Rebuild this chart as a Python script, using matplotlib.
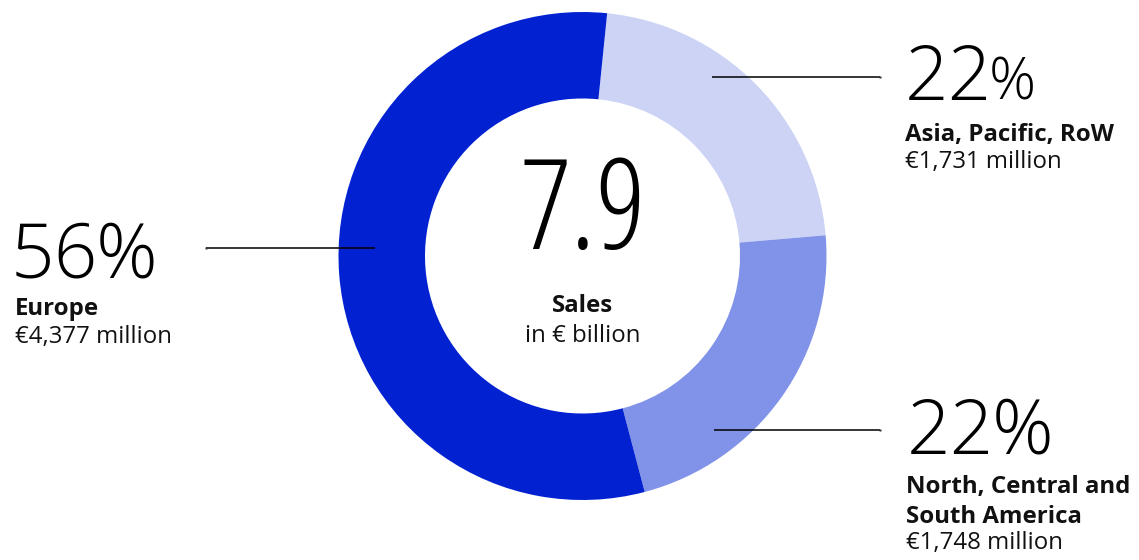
import matplotlib
matplotlib.use("Agg")
import matplotlib.pyplot as plt

# Sales by region, in € million (drawn clockwise from the top)
regions = ["Asia, Pacific, RoW", "North, Central and\nSouth America", "Europe"]
sales_million = [1731, 1748, 4377]
colors = ["#CCD3F5", "#8193E8", "#0222D2"]

total_billion = sum(sales_million) / 1000
shares = [round(100 * v / sum(sales_million)) for v in sales_million]

W, H = 1139, 560
fig = plt.figure(figsize=(W / 100, H / 100), dpi=100)
ax = fig.add_axes([0, 0, 1, 1])
ax.axis("off")

def py(y):
    """Pixel row (from top) to data y."""
    return H - y

cx, cy, r_out, r_in = 582.5, py(256), 244, 157.5
ax.pie(sales_million, colors=colors, startangle=84.2, counterclock=False,
       center=(cx, cy), radius=r_out,
       wedgeprops=dict(width=r_out - r_in, linewidth=0))
ax.set_xlim(0, W)
ax.set_ylim(0, H)
ax.set_aspect("equal")

FONT = "Open Sans"
light = dict(family=FONT, fontweight="light", color="black")
reg = dict(family=FONT, fontweight="normal", color="#111111", fontsize=17.3)
bold = dict(family=FONT, fontweight="bold", color="#111111", fontsize=17.3)

# leader lines (inner end on the ring, outer end with a small tick)
leaders = [((712, 77), (880, 77)), ((714, 430), (880, 430)), ((375, 248), (206, 248))]
for (x0, y0), (x1, y1) in leaders:
    ax.plot([x0, x1], [py(y0), py(y1)], color="black", lw=1.1, solid_capstyle="butt")
    ax.plot([x1], [py(y1)], marker="s", ms=2, color="#333333", mec="none")

fig.canvas.draw()
renderer = fig.canvas.get_renderer()
inv = ax.transData.inverted()

def width_of(s, size, **kw):
    t = ax.text(0, 0, s, fontsize=size, **light, **kw)
    bb = t.get_window_extent(renderer)
    t.remove()
    return inv.transform((bb.x1, 0))[0] - inv.transform((bb.x0, 0))[0]

# centre figure
ax.text(cx + 1, py(249), f"{total_billion:.1f}", ha="center", va="baseline",
        fontsize=90, fontstretch="condensed", **light)
ax.text(cx, py(312), "Sales", ha="center", va="baseline", **bold)
ax.text(cx, py(342), "in € billion", ha="center", va="baseline", **reg)

def pct_label(x, y, value, pct_size):
    num = f"{value}"
    ax.text(x, py(y), num, ha="left", va="baseline", fontsize=55, **light)
    xr = x + width_of(num, 55) - 3
    ax.text(xr, py(y), "%", ha="left", va="baseline", fontsize=pct_size, **light)

# Asia, Pacific, RoW
pct_label(905, 100, shares[0], 42)
ax.text(905, py(141), regions[0], ha="left", va="baseline", **bold)
ax.text(905, py(168), f"€{sales_million[0]:,} million", ha="left", va="baseline", **reg)

# Americas
pct_label(907, 454, shares[1], 55)
ax.text(906, py(493), "North, Central and", ha="left", va="baseline", **bold)
ax.text(906, py(523), "South America", ha="left", va="baseline", **bold)
ax.text(906, py(549), f"€{sales_million[1]:,} million", ha="left", va="baseline", **reg)

# Europe
pct_label(11, 277, shares[2], 55)
ax.text(15, py(315), regions[2], ha="left", va="baseline", **bold)
ax.text(15, py(343), f"€{sales_million[2]:,} million", ha="left", va="baseline", **reg)

fig.savefig("out.png", dpi=100)
